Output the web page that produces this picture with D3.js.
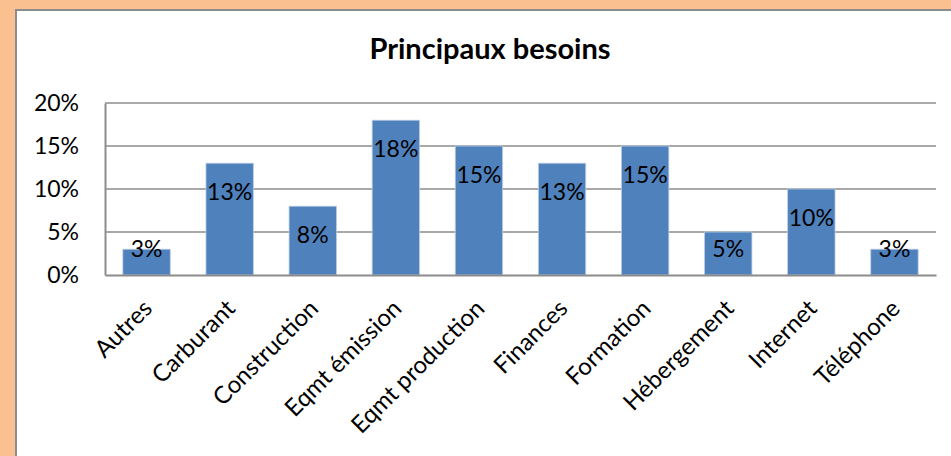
<!DOCTYPE html>
<html>
<head>
<meta charset="utf-8">
<script src="https://cdn.jsdelivr.net/npm/d3@7"></script>
<style>
  html, body { margin: 0; padding: 0; background: #FAC08F; }
  svg { display: block; font-family: Lato, "Liberation Sans", sans-serif; }
</style>
</head>
<body>
<div class="barchart"></div>
<script>
const categories = ["Autres", "Carburant", "Construction", "Eqmt émission", "Eqmt production",
                    "Finances", "Formation", "Hébergement", "Internet", "Téléphone"];
const values = [3, 13, 8, 18, 15, 13, 15, 5, 10, 3];
const yTicks = [0, 5, 10, 15, 20];
const title = "Principaux besoins";

const W = 951, H = 456;
const margin = {top: 103, right: 15, bottom: 181, left: 105};
const width = W - margin.left - margin.right;
const height = H - margin.top - margin.bottom;

const root = d3.select('.barchart')
    .append('svg')
    .attr('width', W)
    .attr('height', H);

// orange frame + white chart area
root.append("rect")
    .attr("x", 0).attr("y", 0).attr("width", W).attr("height", H)
    .attr("fill", "#FAC08F");
root.append("rect")
    .attr("x", 16).attr("y", 10).attr("width", W + 10).attr("height", H)
    .attr("fill", "#fff")
    .attr("stroke", "#8c8c8c")
    .attr("stroke-width", 2);

root.append("text")
    .attr("x", 490)
    .attr("y", 59)
    .attr("text-anchor", "middle")
    .attr("font-weight", "bold")
    .attr("font-size", 29)
    .attr("fill", "#000")
    .text(title);

const svg = root.append("g")
    .attr("transform", "translate(" + margin.left + "," + margin.top + ")");

const xScale = d3.scaleBand()
    .domain(categories)
    .range([0, width])
    .padding(0);

const yScale = d3.scaleLinear()
    .domain([0, 20])
    .range([height, 0]);

// gridlines
svg.append("g")
    .selectAll("line")
    .data(yTicks.filter(d => d > 0))
    .enter()
    .append("line")
    .attr("x1", 0)
    .attr("x2", width)
    .attr("y1", d => yScale(d))
    .attr("y2", d => yScale(d))
    .attr("stroke", "#8c8c8c")
    .attr("stroke-width", 1.5);

// Y axis
const yAxis = svg.append("g")
    .call(d3.axisLeft(yScale).tickValues(yTicks).tickSize(0).tickPadding(26)
        .tickFormat(d => d + "%"));
yAxis.select(".domain").attr("stroke", "#8c8c8c").attr("stroke-width", 2);
yAxis.selectAll("text")
    .attr("font-family", "Lato, 'Liberation Sans', sans-serif")
    .attr("font-size", 23)
    .attr("fill", "#000");

// bars
const barW = xScale.bandwidth() * 0.57;
svg.selectAll(".bar")
    .data(values)
    .enter()
    .append("rect")
    .attr("class", "bar")
    .attr("x", (d, i) => xScale(categories[i]) + (xScale.bandwidth() - barW) / 2)
    .attr("y", d => yScale(d))
    .attr("width", barW)
    .attr("height", d => height - yScale(d))
    .attr("fill", "#4F81BD")
    .attr("stroke", "#B9CDE5")
    .attr("stroke-width", 0.8);

// X axis
const xAxis = svg.append("g")
    .attr("transform", "translate(0," + height + ")")
    .call(d3.axisBottom(xScale).tickSize(0).tickSizeOuter(0));
xAxis.select(".domain").attr("stroke", "#8c8c8c").attr("stroke-width", 2);
xAxis.selectAll("text")
    .attr("font-family", "Lato, 'Liberation Sans', sans-serif")
    .attr("font-size", 24)
    .attr("fill", "#000")
    .attr("text-anchor", "end")
    .attr("dy", "0.7em")
    .attr("transform", "translate(-7,21) rotate(-45)");

// value labels
svg.selectAll(".val")
    .data(values)
    .enter()
    .append("text")
    .attr("class", "val")
    .attr("x", (d, i) => xScale(categories[i]) + xScale.bandwidth() / 2)
    .attr("y", d => Math.min(yScale(d) + 37, height - 18))
    .attr("text-anchor", "middle")
    .attr("font-size", 23)
    .attr("fill", "#000")
    .text(d => d + "%");
</script>
</body>
</html>
